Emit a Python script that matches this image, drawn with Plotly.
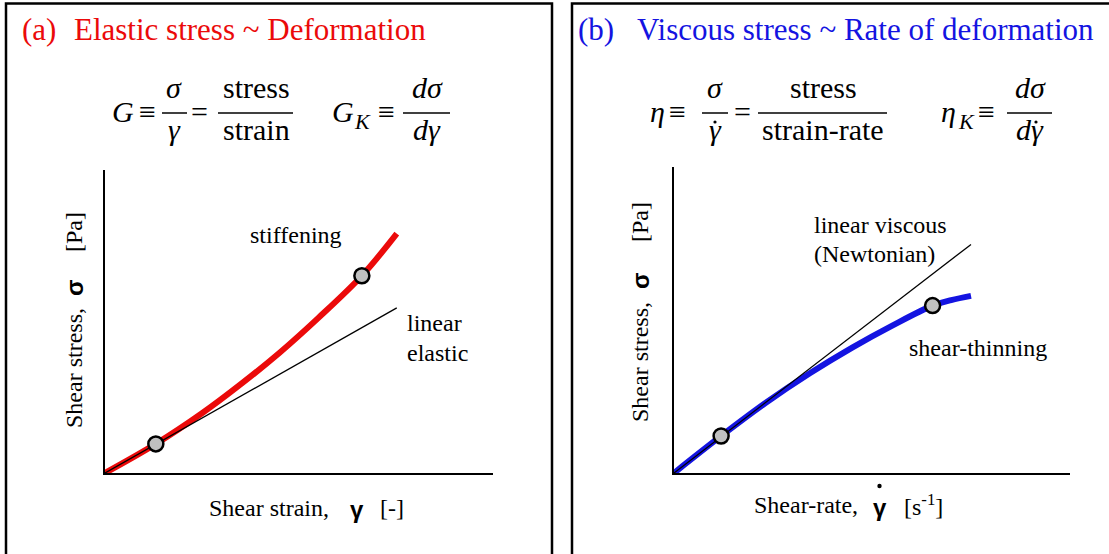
import plotly.graph_objects as go

W, H = 1109, 554

# ---------------- data ----------------
# Panel (a): elastic stress vs shear strain
strain_lin = [0, 7.52]
stress_lin = [0, 5.45]
strain_stiff = [0, 1.31, 2.5, 3.5, 4.5, 5.5, 6.62, 7.52]
stress_stiff = [0, 0.96, 1.97, 2.93, 3.97, 5.12, 6.51, 7.90]
strain_pts = [1.31, 6.62]
stress_pts_a = [0.96, 6.51]

# Panel (b): viscous stress vs shear rate
rate_lin = [0, 7.5]
stress_newt = [0, 7.47]
rate_thin = [0, 1.19, 2.3, 3.43, 4.5, 5.5, 6.53, 7.0, 7.5]
stress_thin = [0, 1.21, 2.28, 3.26, 4.10, 4.81, 5.47, 5.65, 5.79]
rate_pts = [1.19, 6.53]
stress_pts_b = [1.21, 5.47]

RED = "rgb(235,10,10)"
BLUE = "rgb(20,20,225)"
SERIF = "Liberation Serif"
SANS = "Liberation Sans"


def X(px):
    return px / W


def Y(py):
    return 1 - py / H


fig = go.Figure()

marker_style = dict(size=15, color="rgb(192,192,192)", line=dict(color="black", width=2.5))

# panel (a)
fig.add_trace(go.Scatter(x=strain_stiff, y=stress_stiff, mode="lines", line=dict(color=RED, width=6, shape="spline"),
                         xaxis="x", yaxis="y", cliponaxis=False, hoverinfo="skip"))
fig.add_trace(go.Scatter(x=strain_lin, y=stress_lin, mode="lines", line=dict(color="black", width=1.3),
                         xaxis="x", yaxis="y", cliponaxis=False, hoverinfo="skip"))
fig.add_trace(go.Scatter(x=strain_pts, y=stress_pts_a, mode="markers", marker=marker_style,
                         xaxis="x", yaxis="y", cliponaxis=False, hoverinfo="skip"))
# panel (b)
fig.add_trace(go.Scatter(x=rate_thin, y=stress_thin, mode="lines", line=dict(color=BLUE, width=6, shape="spline"),
                         xaxis="x2", yaxis="y2", cliponaxis=False, hoverinfo="skip"))
fig.add_trace(go.Scatter(x=rate_lin, y=stress_newt, mode="lines", line=dict(color="black", width=1.3),
                         xaxis="x2", yaxis="y2", cliponaxis=False, hoverinfo="skip"))
fig.add_trace(go.Scatter(x=rate_pts, y=stress_pts_b, mode="markers", marker=marker_style,
                         xaxis="x2", yaxis="y2", cliponaxis=False, hoverinfo="skip"))

axis_style = dict(range=[0, 10], showline=True, linecolor="black", linewidth=2, showticklabels=False,
                  ticks="", showgrid=False, zeroline=False, fixedrange=True)

annotations = []


def txt(text, px, py, size=30, color="black", family=SERIF, angle=0, xanchor="center"):
    annotations.append(dict(text=text, x=X(px), y=Y(py), xref="paper", yref="paper", showarrow=False,
                            xanchor=xanchor, yanchor="middle", textangle=angle,
                            font=dict(size=size, color=color, family=family)))


shapes = []


def bar(x0, x1, py):
    shapes.append(dict(type="line", xref="paper", yref="paper", x0=X(x0), x1=X(x1), y0=Y(py), y1=Y(py),
                       line=dict(color="black", width=1.5)))


def dot(px, py, r=1.6):
    shapes.append(dict(type="circle", xref="paper", yref="paper", x0=X(px - r), x1=X(px + r),
                       y0=Y(py + r), y1=Y(py - r), fillcolor="black", line=dict(width=0)))


# panel frames
shapes.append(dict(type="rect", xref="paper", yref="paper", x0=X(6), x1=X(552), y0=Y(600), y1=Y(3.5),
                   line=dict(color="black", width=2.5)))
shapes.append(dict(type="rect", xref="paper", yref="paper", x0=X(572), x1=X(1160), y0=Y(600), y1=Y(3.5),
                   line=dict(color="black", width=2.5)))

# titles
txt("(a)", 20, 30, size=31, color=RED, xanchor="left")
txt("Elastic stress ~ Deformation", 72, 30, size=31, color=RED, xanchor="left")
txt("(b)", 576, 30, size=31, color=BLUE, xanchor="left")
txt("Viscous stress ~ Rate of deformation", 635, 30, size=31, color=BLUE, xanchor="left")

# formula (a)
txt("<i>G</i>", 122.5, 112)
txt("≡", 147.5, 112)
txt("<i>σ</i>", 174, 87)
bar(162, 187, 113)
txt("<i>γ</i>", 174, 129)
txt("=", 199.5, 112)
txt("stress", 256, 87)
bar(218, 293, 113)
txt("strain", 256, 129)
txt("<i>G</i>", 342.5, 112)
txt("<i>K</i>", 362, 121, size=22)
txt("≡", 386.5, 112)
txt("<i>dσ</i>", 427, 87)
bar(403, 450, 113)
txt("<i>dγ</i>", 427, 129)

# formula (b)
txt("<i>η</i>", 657.5, 112)
txt("≡", 677, 112)
txt("<i>σ</i>", 715, 87)
bar(702, 728, 113)
txt("<i>γ</i>", 715, 129)
dot(715, 122)
txt("=", 742.5, 112)
txt("stress", 823, 87)
bar(758, 887, 113)
txt("strain-rate", 822.5, 129)
txt("<i>η</i>", 948, 112)
txt("<i>K</i>", 966, 121, size=22)
txt("≡", 986.5, 112)
txt("<i>dσ</i>", 1030, 87)
bar(1007, 1052, 113)
txt("<i>dγ</i>", 1030, 129)
dot(1036, 122)

# axis labels (a)
txt("Shear strain,", 269, 508, size=24)
txt("<b>γ</b>", 357, 509, size=24, family=SANS)
txt("[-]", 392, 508, size=24)
txt("Shear stress,", 74, 368, size=24, angle=-90)
txt("<b>σ</b>", 74, 288, size=24, family=SANS, angle=-90)
txt("[Pa]", 74, 232, size=24, angle=-90)

# axis labels (b)
txt("Shear-rate,", 806, 505, size=24)
txt("<b>γ</b>", 880, 507, size=24, family=SANS)
dot(879.5, 486, r=2.2)
txt("[s<sup>-1</sup>]", 923, 505, size=24)
txt("Shear stress,", 640, 362, size=24, angle=-90)
txt("<b>σ</b>", 640, 281, size=24, family=SANS, angle=-90)
txt("[Pa]", 640, 222, size=24, angle=-90)

# in-plot labels
txt("stiffening", 296, 235, size=24)
txt("linear", 405, 323, size=24, xanchor="left")
txt("elastic", 405, 353, size=24, xanchor="left")
txt("linear viscous", 812, 225, size=24, xanchor="left")
txt("(Newtonian)", 812, 254, size=24, xanchor="left")
txt("shear-thinning", 907, 348, size=24, xanchor="left")

fig.update_layout(
    width=W, height=H, margin=dict(l=0, r=0, t=0, b=0),
    paper_bgcolor="white", plot_bgcolor="white", showlegend=False,
    xaxis=dict(domain=[X(105), X(493)], anchor="y", **axis_style),
    yaxis=dict(domain=[Y(473), Y(170)], anchor="x", **axis_style),
    xaxis2=dict(domain=[X(674), X(1070)], anchor="y2", **axis_style),
    yaxis2=dict(domain=[Y(473), Y(167)], anchor="x2", **axis_style),
    annotations=annotations, shapes=shapes,
)

fig.write_html("out.html", config={"displayModeBar": False})
